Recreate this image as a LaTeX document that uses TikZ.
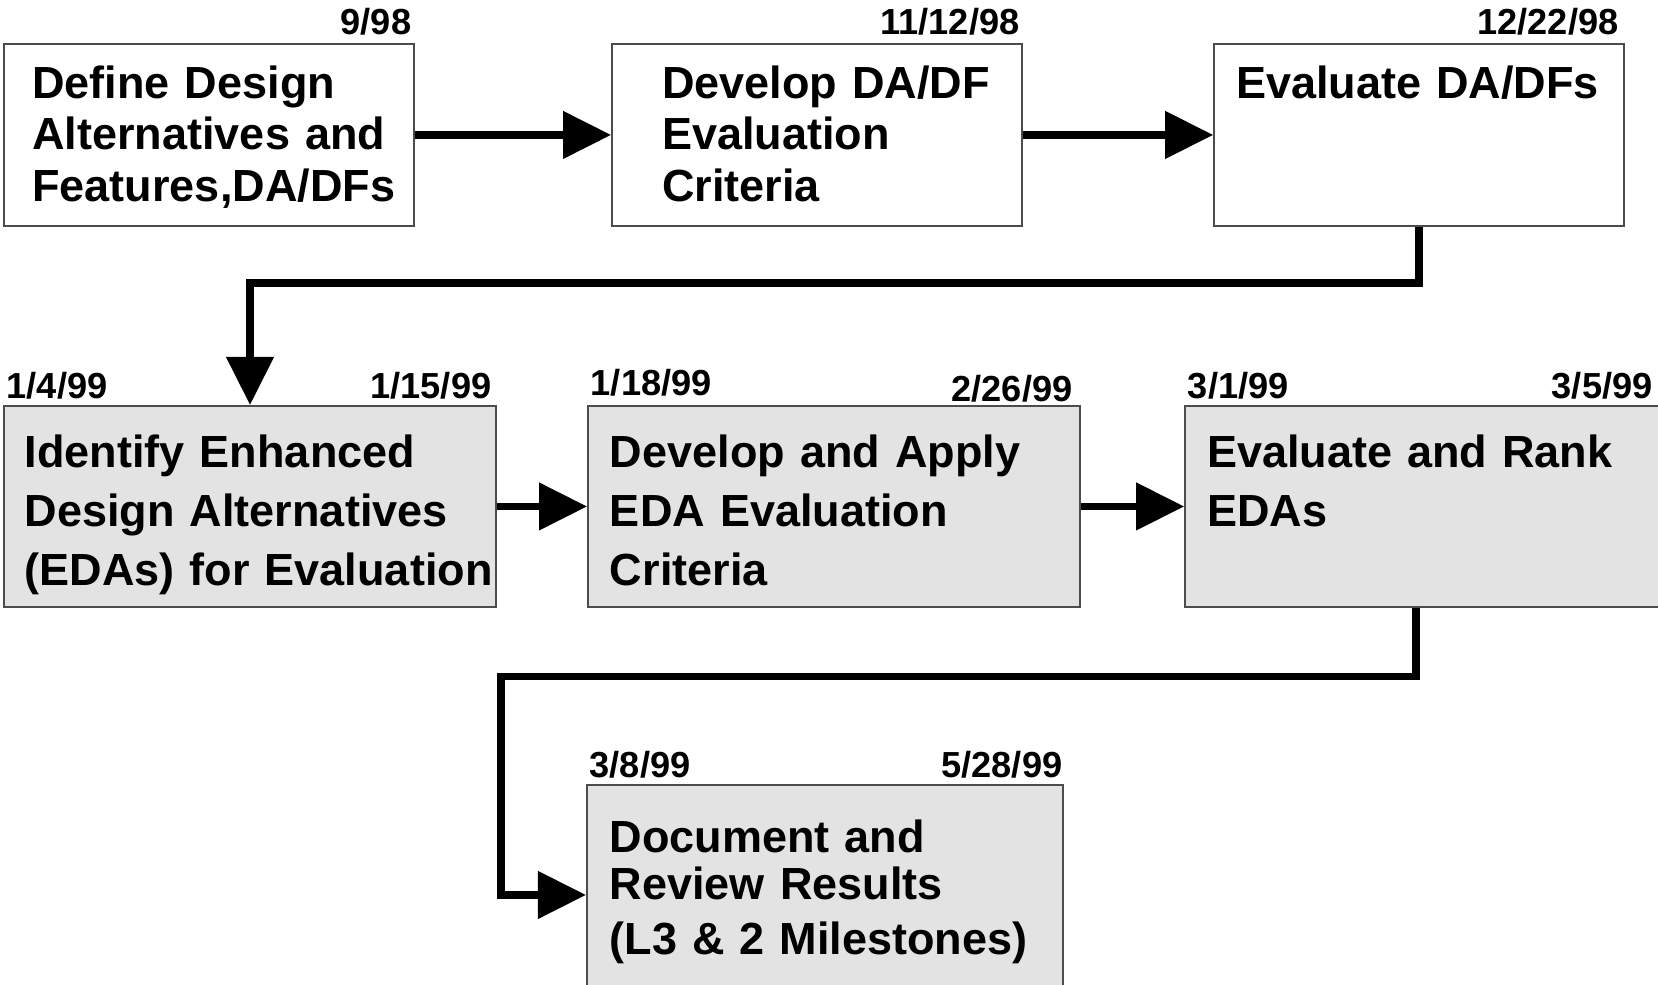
\documentclass[tikz,border=0pt]{standalone}
\usepackage{fontspec}
\setmainfont{Liberation Sans}
\usepackage{tikz}
\usetikzlibrary{arrows.meta, positioning}
\tikzset{
	every node/.style={
		font=\bfseries\fontsize{12.8}{14.7}\selectfont
	},
	dadf/.style={
		shape=rectangle,
		minimum width=4.1cm,
		minimum height=1.82cm,
		text width=4.1cm,
		text depth=30.2pt,
		inner xsep=0pt,
		inner ysep=0pt,
		align=left,
		draw=black!70,
		line width=0.5pt,
		execute at begin node={\leftskip=#1},
	},
	dadf/.default=0.22cm,
	eda/.style={
		dadf=#1,
		fill=black!11,
		minimum width=4.92cm,
		minimum height=2.01cm,
		text width=4.92cm,
		text height=0.5cm,
		text depth=36.3pt,
		font=\bfseries\fontsize{12.8}{16.8}\selectfont
	},
	eda/.default=0.22cm,
	fecha/.style={
		font=\bfseries\fontsize{10.3}{12}\selectfont,
		inner sep=0pt,
		yshift=0.07cm
	}
}

\begin{document}
\begin{tikzpicture}[->,>={Triangle[length=0.48cm,width=0.46cm]},line width=0.075cm,x=0.01cm,y=-0.01cm]
	\useasboundingbox (0,0) rectangle (1658,984);
	
	\node[dadf=0.285cm, anchor=north west,
		label={[fecha, anchor=base east, yshift=0.02cm]north east:9/98}]
		(box1) at (3,43) {Define Design\\Alternatives and\\Features,DA/DFs};
	\node[dadf=0.5cm, right=1.96cm of box1,
		label={[fecha, anchor=base east, yshift=0.02cm]north east:11/12/98}]
		(box2) {Develop DA/DF\\Evaluation\\Criteria};
	\node[dadf, right=1.9cm of box2,
		label={[fecha, anchor=base east, xshift=-0.03cm, yshift=0.02cm]north east:12/22/98}]
		(box3) {Evaluate DA/DFs\\~\\~};
	
	\node[eda=0.21cm, anchor=north west,
		label={[fecha, anchor=base west]north west:1/4/99},
		label={[fecha, anchor=base east, xshift=-0.02cm]north east:1/15/99}]
		(box4) at (3,405) {Identify Enhanced\\Design Alternatives\\(EDAs) for Evaluation};
	\node[eda, right=0.9cm of box4,
		label={[fecha, anchor=base west, yshift=0.025cm]north west:1/18/99},
		label={[fecha, anchor=base east, xshift=-0.05cm, yshift=-0.03cm]north east:2/26/99}]
		(box5) {Develop and Apply\\EDA Evaluation\\Criteria};
	\node[eda, right=1.03cm of box5,
		label={[fecha, anchor=base west]north west:3/1/99},
		label={[fecha, anchor=base east, xshift=-0.22cm]north east:3/5/99}]
		(box6) {Evaluate and Rank\\EDAs\\~};
	
	\node[eda=0.23cm, anchor=north west, minimum width=4.76cm, text width=4.76cm, minimum height=2.07cm,
		text height=0.39cm, text depth=31.8pt, font=\bfseries\fontsize{12.8}{13.5}\selectfont,
		label={[fecha, anchor=base west]north west:3/8/99},
		label={[fecha, anchor=base east, xshift=0.02cm]north east:5/28/99}]
		(box7) at (586,784) {Document and\\Review Results\\[2.1pt](L3 \& 2 Milestones)};
	
	\draw (box1) -- (box2);
	\draw (box2) -- (box3);
	\draw (box3.south) -- ++(0,56) -| (box4.north);
	\draw (box4) -- (box5);
	\draw (box5) -- (box6);
	\draw ([xshift=-0.15cm]box6.south) -- ++(0,68.6) -| ([xshift=-0.85cm,yshift=-0.065cm]box7.west) -- ([yshift=-0.065cm]box7.west);
\end{tikzpicture}
\end{document}
